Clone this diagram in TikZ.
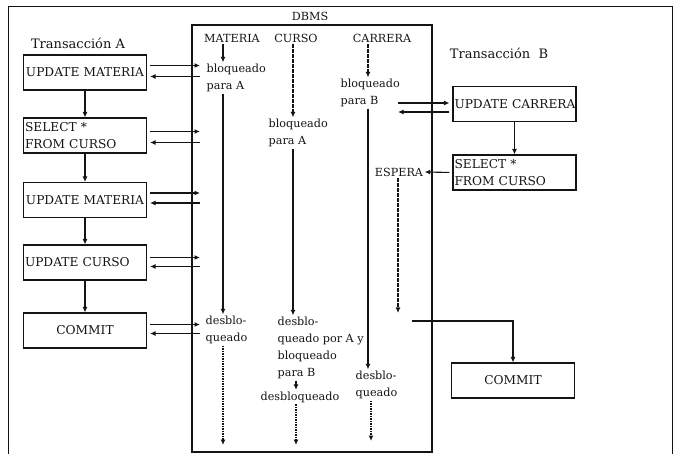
\documentclass[tikz,border=0pt]{standalone}
\usepackage{fontspec}
\setmainfont{DejaVu Serif}
\usepackage{xcolor}
\usetikzlibrary{arrows.meta, positioning}
\definecolor{cInk}{HTML}{141414}
\newcommand{\lblfont}{\fontsize{11.2}{17}\selectfont}
\newcommand{\boxfont}{\fontsize{12.2}{17}\selectfont}
\newcommand{\ttlfont}{\fontsize{13}{17}\selectfont}

\begin{document}
\begin{tikzpicture}[
  x=1pt, y=-1pt,
  txbox/.style={draw=cInk, line width=1.1pt, minimum width=123pt,
    minimum height=35pt, text width=120pt, align=left, inner xsep=1.5pt,
    font=\boxfont, text=cInk},
  lbl/.style={font=\lblfont, text=cInk, inner sep=1.5pt, align=left},
  arr/.style={draw=cInk, line width=1.1pt, -{Latex[length=5.5pt, width=5pt]}},
  dots/.style={arr, dash pattern=on 1.6pt off 0.9pt},
  rq/.style={arr, shorten <=3pt},
  rs/.style={arr, shorten >=3pt}
]
  \useasboundingbox (0,0) rectangle (675,454);

  % frame and DBMS box
  \draw[cInk, line width=0.9pt] (8,454) -- (8,6) -- (672,6) -- (672,454);
  \node[draw=cInk, line width=1.1pt, minimum width=240pt, minimum height=427pt,
    inner sep=0pt] (dbms) at (312,238.5) {};
  \node[lbl] (dbmsLbl) at (310,16) {DBMS};

  \coordinate (xMat) at (223,0);
  \coordinate (xCur) at (293,0);
  \coordinate (xCur2) at (296,0);
  \coordinate (xCar) at (368,0);
  \coordinate (xIn) at (200,0);
  \coordinate (xOut) at (398,0);

  % DBMS columns
  \node[lbl] (hMat) at (232,38) {MATERIA};
  \node[lbl] (hCur) at (296,38) {CURSO};
  \node[lbl] (hCar) at (382,38) {CARRERA};

  \node[lbl, anchor=west] (bMat) at (205,78) {bloqueado\\para A};
  \node[lbl, anchor=west] (bCur) at (267,133) {bloqueado\\para A};
  \node[lbl, anchor=west] (bCar) at (339,93) {bloqueado\\para B};

  \node[lbl, anchor=west] (dMat) at (204,330) {desblo-\\queado};
  \node[lbl, anchor=west] (dCur) at (276,348) {desblo-\\queado por A y\\bloqueado\\para B};
  \node[lbl] (dCur2) at (300,397) {desbloqueado};
  \node[lbl, anchor=west] (dCar) at (354,385) {desblo-\\queado};
  \node[lbl] (esp) at (399,172) {ESPERA};

  \coordinate (eMat) at (223,445);
  \coordinate (eCur) at (296,445);
  \coordinate (eCar) at (371,441);
  \coordinate (eEsp) at (398,313);
  \coordinate (jB) at (412,321);

  \draw[arr] (hMat.south -| xMat) -- (bMat.north -| xMat);
  \draw[arr] (bMat.south -| xMat) -- (dMat.north -| xMat);
  \draw[dots] (dMat.south -| xMat) -- (eMat);

  \draw[dots] (hCur.south -| xCur) -- (bCur.north -| xCur);
  \draw[arr] (bCur.south -| xCur) -- (dCur.north -| xCur);
  \draw[arr] (dCur.south -| xCur2) -- (dCur2.north -| xCur2);
  \draw[dots] (dCur2.south -| xCur2) -- (eCur);

  \draw[dots] (hCar.south -| xCar) -- (bCar.north -| xCar);
  \draw[arr] (bCar.south -| xCar) -- (dCar.north -| xCar);
  \draw[dots] (dCar.south -| eCar) -- (eCar);

  \draw[dots] (esp.south -| eEsp) -- (eEsp);

  % Transaccion A
  \node[lbl, font=\ttlfont] (tA) at (78,43) {Transacción A};
  \node[txbox, align=center] (umA) at (85,72.5) {UPDATE MATERIA};
  \node[txbox] (selA) at (85,135.5) {SELECT *\\FROM CURSO};
  \node[txbox, align=center] (umA2) at (85,200) {UPDATE MATERIA};
  \node[txbox] (ucA) at (85,262.5) {UPDATE CURSO};
  \node[txbox, align=center] (cmA) at (85,330.5) {COMMIT};

  \draw[arr] (umA) -- (selA);
  \draw[arr] (selA) -- (umA2);
  \draw[arr] (umA2) -- (ucA);
  \draw[arr] (ucA) -- (cmA);

  \draw[rq] ([yshift=7]umA.east) -- ([yshift=7]umA.east -| xIn);
  \draw[rs] ([yshift=-4]umA.east -| xIn) -- ([yshift=-4]umA.east);
  \draw[rq] ([yshift=4]selA.east) -- ([yshift=4]selA.east -| xIn);
  \draw[rs] ([yshift=-7]selA.east -| xIn) -- ([yshift=-7]selA.east);
  \draw[rq] ([yshift=7]umA2.east) -- ([yshift=7]umA2.east -| xIn);
  \draw[rs] ([yshift=-3]umA2.east -| xIn) -- ([yshift=-3]umA2.east);
  \draw[rq] ([yshift=5]ucA.east) -- ([yshift=5]ucA.east -| xIn);
  \draw[rs] ([yshift=-4]ucA.east -| xIn) -- ([yshift=-4]ucA.east);
  \draw[rq] ([yshift=6]cmA.east) -- ([yshift=6]cmA.east -| xIn);
  \draw[rs] ([yshift=-3]cmA.east -| xIn) -- ([yshift=-3]cmA.east);

  % Transaccion B
  \node[lbl, font=\ttlfont] (tB) at (499,53) {Transacción\ \ B};
  \node[txbox] (ucB) at (514.5,104) {\mbox{UPDATE CARRERA}};
  \node[txbox] (selB) at (514.5,172.5) {SELECT *\\FROM CURSO};
  \node[txbox, align=center] (cmB) at (513,380.5) {COMMIT};

  \draw[arr] (ucB) -- (selB);
  \draw[rs] ([yshift=1]ucB.west -| xOut) -- ([yshift=1]ucB.west);
  \draw[rq] ([yshift=-8]ucB.west) -- ([yshift=-8]ucB.west -| xOut);
  \draw[rq] (selB.west) -- (esp.east);
  \draw[arr] (jB) -| (cmB.north);

\end{tikzpicture}
\end{document}
